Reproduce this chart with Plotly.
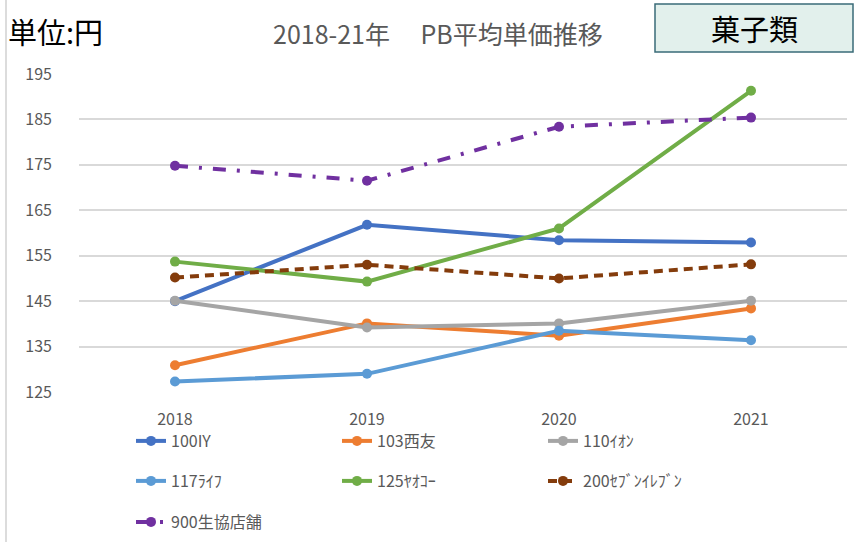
import plotly.graph_objects as go

years = ["2018", "2019", "2020", "2021"]
names = ["100IY", "103西友", "110ｲｵﾝ", "117ﾗｲﾌ", "125ﾔｵｺｰ", "200ｾﾌﾞﾝｲﾚﾌﾞﾝ", "900生協店舗"]
v_100 = [145.0, 161.8, 158.4, 157.9]
v_103 = [130.9, 140.1, 137.4, 143.4]
v_110 = [145.1, 139.2, 140.1, 145.1]
v_117 = [127.3, 129.0, 138.5, 136.4]
v_125 = [153.7, 149.3, 161.0, 191.3]
v_200 = [150.2, 153.0, 150.0, 153.1]
v_900 = [174.8, 171.5, 183.4, 185.4]
y_ticks = [125, 135, 145, 155, 165, 175, 185, 195]

series = [v_100, v_103, v_110, v_117, v_125, v_200, v_900]
colors = ["#4472C4", "#ED7D31", "#A5A5A5", "#5B9BD5", "#70AD47", "#843C0C", "#7030A0"]
dashes = ["solid", "solid", "solid", "solid", "solid", "9px,6px", "13px,11px,3px,11px"]
legend_ids = ["legend", "legend", "legend", "legend2", "legend2", "legend2", "legend3"]

W, H = 865, 542
L, R, T, B = 79, 18, 74, 150
pw, ph = W - L - R, H - T - B

def px(x):
    return (x - L) / pw

def py(y):
    return (H - B - y) / ph

fig = go.Figure()
for name, vals, c, d, lg in zip(names, series, colors, dashes, legend_ids):
    fig.add_trace(go.Scatter(
        x=years, y=vals, name=name, mode="lines+markers",
        line=dict(color=c, width=4, dash=d),
        marker=dict(color=c, size=10),
        legend=lg,
    ))

font_main = "Noto Sans CJK JP, Noto Sans, sans-serif"
leg_common = dict(orientation="h", xanchor="left", yanchor="middle",
                  xref="container", yref="container",
                  entrywidthmode="pixels", entrywidth=161,
                  font=dict(family=font_main, size=16, color="#595959"),
                  bgcolor="rgba(0,0,0,0)", traceorder="normal")

fig.update_layout(
    width=W, height=H,
    margin=dict(l=L, r=R, t=T, b=B, autoexpand=False),
    paper_bgcolor="white", plot_bgcolor="white",
    font=dict(family=font_main, color="#595959"),
    showlegend=True,
    legend=dict(x=131 / W, y=1 - 441 / H, **leg_common),
    legend2=dict(x=131 / W, y=1 - 481 / H, **leg_common),
    legend3=dict(x=131 / W, y=1 - 522 / H, **leg_common),
    xaxis=dict(type="category", range=[-0.5, 3.5], showgrid=False, showline=False,
               ticks="", ticklabelstandoff=16, automargin=False,
               tickfont=dict(family=font_main, size=16, color="#595959")),
    yaxis=dict(range=[125, 195], tickvals=y_ticks, showgrid=True, gridcolor="#D9D9D9",
               gridwidth=1.5, zeroline=False, showline=False, ticks="",
               ticklabelstandoff=26, automargin=False,
               tickfont=dict(family=font_main, size=16, color="#595959")),
    shapes=[
        dict(type="line", xref="paper", yref="paper", x0=px(6), x1=px(6), y0=py(542), y1=py(0),
             line=dict(color="#D0D0D0", width=1.5)),
        dict(type="rect", xref="paper", yref="paper", x0=px(655), x1=px(853), y0=py(52), y1=py(4),
             fillcolor="#E2F0EC", line=dict(color="#3A6B78", width=1.5)),
    ],
    annotations=[
        dict(text="単位:円", xref="paper", yref="paper", x=px(6), y=py(31), xanchor="left", yanchor="middle",
             showarrow=False, font=dict(family=font_main, size=29, color="#000000")),
        dict(text="2018-21年　 PB平均単価推移", xref="paper", yref="paper", x=px(438), y=py(33),
             xanchor="center", yanchor="middle", showarrow=False,
             font=dict(family=font_main, size=25, color="#595959")),
        dict(text="菓子類", xref="paper", yref="paper", x=px(754), y=py(28),
             xanchor="center", yanchor="middle", showarrow=False,
             font=dict(family=font_main, size=29, color="#000000")),
    ],
)

fig.write_html("out.html", config={"displayModeBar": False},
               post_script="document.body.style.margin='0';")
